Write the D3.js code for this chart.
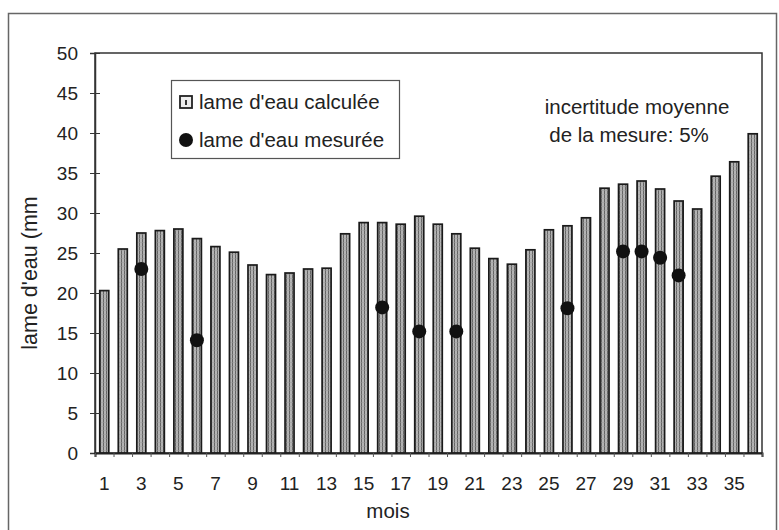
<!DOCTYPE html>
<html>
<head>
<meta charset="utf-8">
<script src="https://cdn.jsdelivr.net/npm/d3@7"></script>
<style>
  body { margin: 0; background: #fff; }
  svg text { font-family: "Liberation Sans", Arial, sans-serif; fill: #222; }
</style>
</head>
<body>
<div id="chart"></div>
<script>
// months 1..36
var mois = d3.range(1, 37);

// lame d'eau calculée (mm)
var calculee = [20.3, 25.5, 27.5, 27.8, 28.0, 26.8, 25.8, 25.1, 23.5, 22.3, 22.5, 23.0,
                23.1, 27.4, 28.8, 28.8, 28.6, 29.6, 28.6, 27.4, 25.6, 24.3, 23.6, 25.4,
                27.9, 28.4, 29.4, 33.1, 33.6, 34.0, 33.0, 31.5, 30.5, 34.6, 36.4, 39.9];

// lame d'eau mesurée (mm), only some months
var moisMesure = [3, 6, 16, 18, 20, 26, 29, 30, 31, 32];
var mesuree    = [23.0, 14.1, 18.2, 15.2, 15.2, 18.1, 25.2, 25.2, 24.4, 22.2];

var yTicks = d3.range(0, 51, 5);
var xLabels = d3.range(1, 37, 2);

var W = 779, H = 530;
var pLeft = 95, pRight = 762, pTop = 53, pBottom = 453;

var svg = d3.select('#chart').append('svg')
    .attr('width', W)
    .attr('height', H);

// stripe pattern for the bars
var defs = svg.append('defs');
var pat = defs.append('pattern')
    .attr('id', 'stripes')
    .attr('patternUnits', 'userSpaceOnUse')
    .attr('width', 3)
    .attr('height', 4);
pat.append('rect').attr('width', 3).attr('height', 4).attr('fill', '#b4b4b4');
pat.append('rect').attr('x', 1).attr('width', 1).attr('height', 4).attr('fill', '#666');
pat.append('rect').attr('y', 2).attr('width', 3).attr('height', 1).attr('fill', '#999').attr('opacity', 0.5);

// outer frame
svg.append('rect')
    .attr('x', 8.5).attr('y', 13.5)
    .attr('width', 768).attr('height', 530)
    .attr('fill', 'none')
    .attr('stroke', '#666')
    .attr('stroke-width', 1.5);

var x = d3.scaleBand()
    .domain(mois)
    .range([pLeft, pRight]);

var xEdge = d3.scaleLinear()
    .domain([0.5, 36.5])
    .range([pLeft, pRight]);

var y = d3.scaleLinear()
    .domain([0, 50])
    .range([pBottom, pTop]);

// plot frame
svg.append('rect')
    .attr('x', pLeft).attr('y', pTop)
    .attr('width', pRight - pLeft).attr('height', pBottom - pTop)
    .attr('fill', 'none')
    .attr('stroke', '#333')
    .attr('stroke-width', 1.5);

var barW = 9;

// bars
svg.selectAll('rect.bar')
    .data(calculee)
    .enter()
    .append('rect')
    .attr('class', 'bar')
    .attr('x', function (d, i) { return x(mois[i]) + (x.bandwidth() - barW) / 2; })
    .attr('y', function (d) { return y(d); })
    .attr('width', barW)
    .attr('height', function (d) { return y(0) - y(d); })
    .attr('fill', 'url(#stripes)')
    .attr('stroke', '#1a1a1a')
    .attr('stroke-width', 1.7);

// measured points
svg.selectAll('circle.mes')
    .data(mesuree)
    .enter()
    .append('circle')
    .attr('class', 'mes')
    .attr('cx', function (d, i) { return x(moisMesure[i]) + x.bandwidth() / 2; })
    .attr('cy', function (d) { return y(d); })
    .attr('r', 7)
    .attr('fill', '#111');

// y axis
var yAxis = svg.append('g')
    .attr('transform', 'translate(' + pLeft + ',0)')
    .call(d3.axisLeft(y).tickValues(yTicks).tickSize(5).tickPadding(12));
yAxis.select('.domain').attr('stroke', '#333').attr('stroke-width', 1.5);
yAxis.selectAll('.tick line').attr('x2', 5).attr('x1', -5).attr('stroke', '#333');
yAxis.selectAll('.tick text')
    .style('font-size', '19px')
    .attr('fill', '#222');

// x axis: small ticks on the month boundaries
var xTickAxis = svg.append('g')
    .attr('transform', 'translate(0,' + pBottom + ')')
    .call(d3.axisBottom(xEdge).tickValues(d3.range(0.5, 37, 1)).tickSize(4).tickFormat(''));
xTickAxis.select('.domain').attr('stroke', '#222').attr('stroke-width', 2);
xTickAxis.selectAll('.tick line').attr('stroke', '#555');

// x axis labels on odd months
var xAxis = svg.append('g')
    .attr('transform', 'translate(0,' + pBottom + ')')
    .call(d3.axisBottom(x).tickValues(xLabels).tickSize(0).tickPadding(24));
xAxis.select('.domain').remove();
xAxis.selectAll('.tick text')
    .style('font-size', '19px')
    .attr('fill', '#222');

// axis titles
svg.append('text')
    .attr('x', 388)
    .attr('y', 518)
    .attr('text-anchor', 'middle')
    .style('font-size', '20.5px')
    .text('mois');

svg.append('text')
    .attr('transform', 'translate(37,273) rotate(-90)')
    .attr('text-anchor', 'middle')
    .style('font-size', '21.5px')
    .text("lame d'eau (mm");

// legend
var leg = svg.append('g');
leg.append('rect')
    .attr('x', 171.5).attr('y', 80.5)
    .attr('width', 228).attr('height', 78)
    .attr('fill', '#fff')
    .attr('stroke', '#555')
    .attr('stroke-width', 1.2);
leg.append('rect')
    .attr('x', 180).attr('y', 96)
    .attr('width', 12).attr('height', 12)
    .attr('fill', '#eee')
    .attr('stroke', '#222')
    .attr('stroke-width', 1.8);
leg.append('rect')
    .attr('x', 185).attr('y', 100)
    .attr('width', 2).attr('height', 5)
    .attr('fill', '#333');
leg.append('circle')
    .attr('cx', 186).attr('cy', 140)
    .attr('r', 7)
    .attr('fill', '#111');
leg.append('text')
    .attr('x', 199).attr('y', 109)
    .style('font-size', '20.5px')
    .text("lame d'eau calculée");
leg.append('text')
    .attr('x', 199).attr('y', 147)
    .style('font-size', '20.5px')
    .text("lame d'eau mesurée");

// note
svg.append('text')
    .attr('x', 637).attr('y', 114)
    .attr('text-anchor', 'middle')
    .style('font-size', '20.5px')
    .text('incertitude moyenne');
svg.append('text')
    .attr('x', 629).attr('y', 142)
    .attr('text-anchor', 'middle')
    .style('font-size', '20.5px')
    .text('de la mesure: 5%');
</script>
</body>
</html>
